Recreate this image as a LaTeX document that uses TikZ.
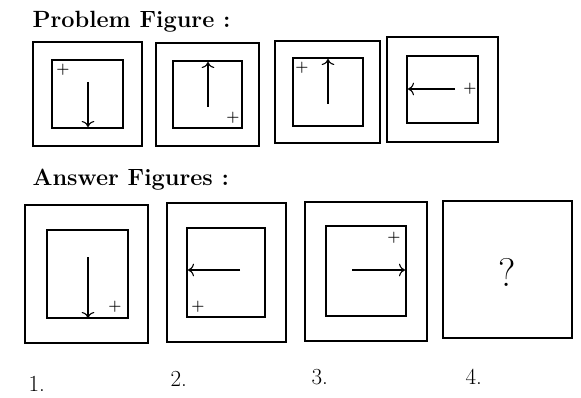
\documentclass[tikz,border=0pt]{standalone}
\usepackage{fontspec}
\usetikzlibrary{arrows.meta}
\begin{document}
\begin{tikzpicture}[x=1pt,y=-1pt,
    frame/.style={line width=1.5pt},
    pointer/.style={-{To[scale=1.5]},line width=1.1pt},
    heading/.style={font=\fontsize{23.5}{25}\selectfont\bfseries,anchor=base west},
    number/.style={font=\fontsize{23}{25}\selectfont,anchor=base west},
    cross/.style={font=\fontsize{15}{15}\selectfont\bfseries,inner sep=0pt}]
  \useasboundingbox (0,0) rectangle (581,398);

  % Titles
  \node[heading] (ptitle) at (29,28) {Problem Figure :};
  \node[heading] (atitle) at (29,186) {Answer Figures :};

  % Problem figure 1
  \draw[frame] (33,42) rectangle (142,146);
  \draw[frame] (52,60) rectangle (123,128);
  \node[cross] (pp1) at (63,70) {+};
  \draw[pointer] (88,82) -- (88,127);

  % Problem figure 2
  \draw[frame] (156,43) rectangle (259,146);
  \draw[frame] (173,61) rectangle (242,128);
  \node[cross] (pp2) at (233,118) {+};
  \draw[pointer] (208,107) -- (208,62);

  % Problem figure 3
  \draw[frame] (275,41) rectangle (380,143);
  \draw[frame] (293,58) rectangle (363,126);
  \node[cross] (pp3) at (302,68) {+};
  \draw[pointer] (328,104) -- (328,59);

  % Problem figure 4
  \draw[frame] (387,37) rectangle (498,142);
  \draw[frame] (407,56) rectangle (478,123);
  \node[cross] (pp4) at (470,89) {+};
  \draw[pointer] (455,89) -- (408,89);

  % Answer figure 1
  \draw[frame] (25,205) rectangle (148,343);
  \draw[frame] (47,230) rectangle (128,318);
  \node[cross] (ap1) at (115,307) {+};
  \draw[pointer] (88,257) -- (88,318);

  % Answer figure 2
  \draw[frame] (167,203) rectangle (286,342);
  \draw[frame] (187,228) rectangle (265,317);
  \node[cross] (ap2) at (198,307) {+};
  \draw[pointer] (240,270) -- (188,270);

  % Answer figure 3
  \draw[frame] (305,202) rectangle (427,341);
  \draw[frame] (326,226) rectangle (406,316);
  \node[cross] (ap3) at (394,238) {+};
  \draw[pointer] (352,270) -- (405,270);

  % Answer figure 4
  \draw[frame] (443,201) rectangle (572,338);
  \node[font=\fontsize{40}{42}\selectfont] (qmark) at (507,272) {?};

  % Option numbers
  \node[number] (n1) at (25,391) {1.};
  \node[number] (n2) at (167,386) {2.};
  \node[number] (n3) at (308,384) {3.};
  \node[number] (n4) at (462,384) {4.};
\end{tikzpicture}
\end{document}
